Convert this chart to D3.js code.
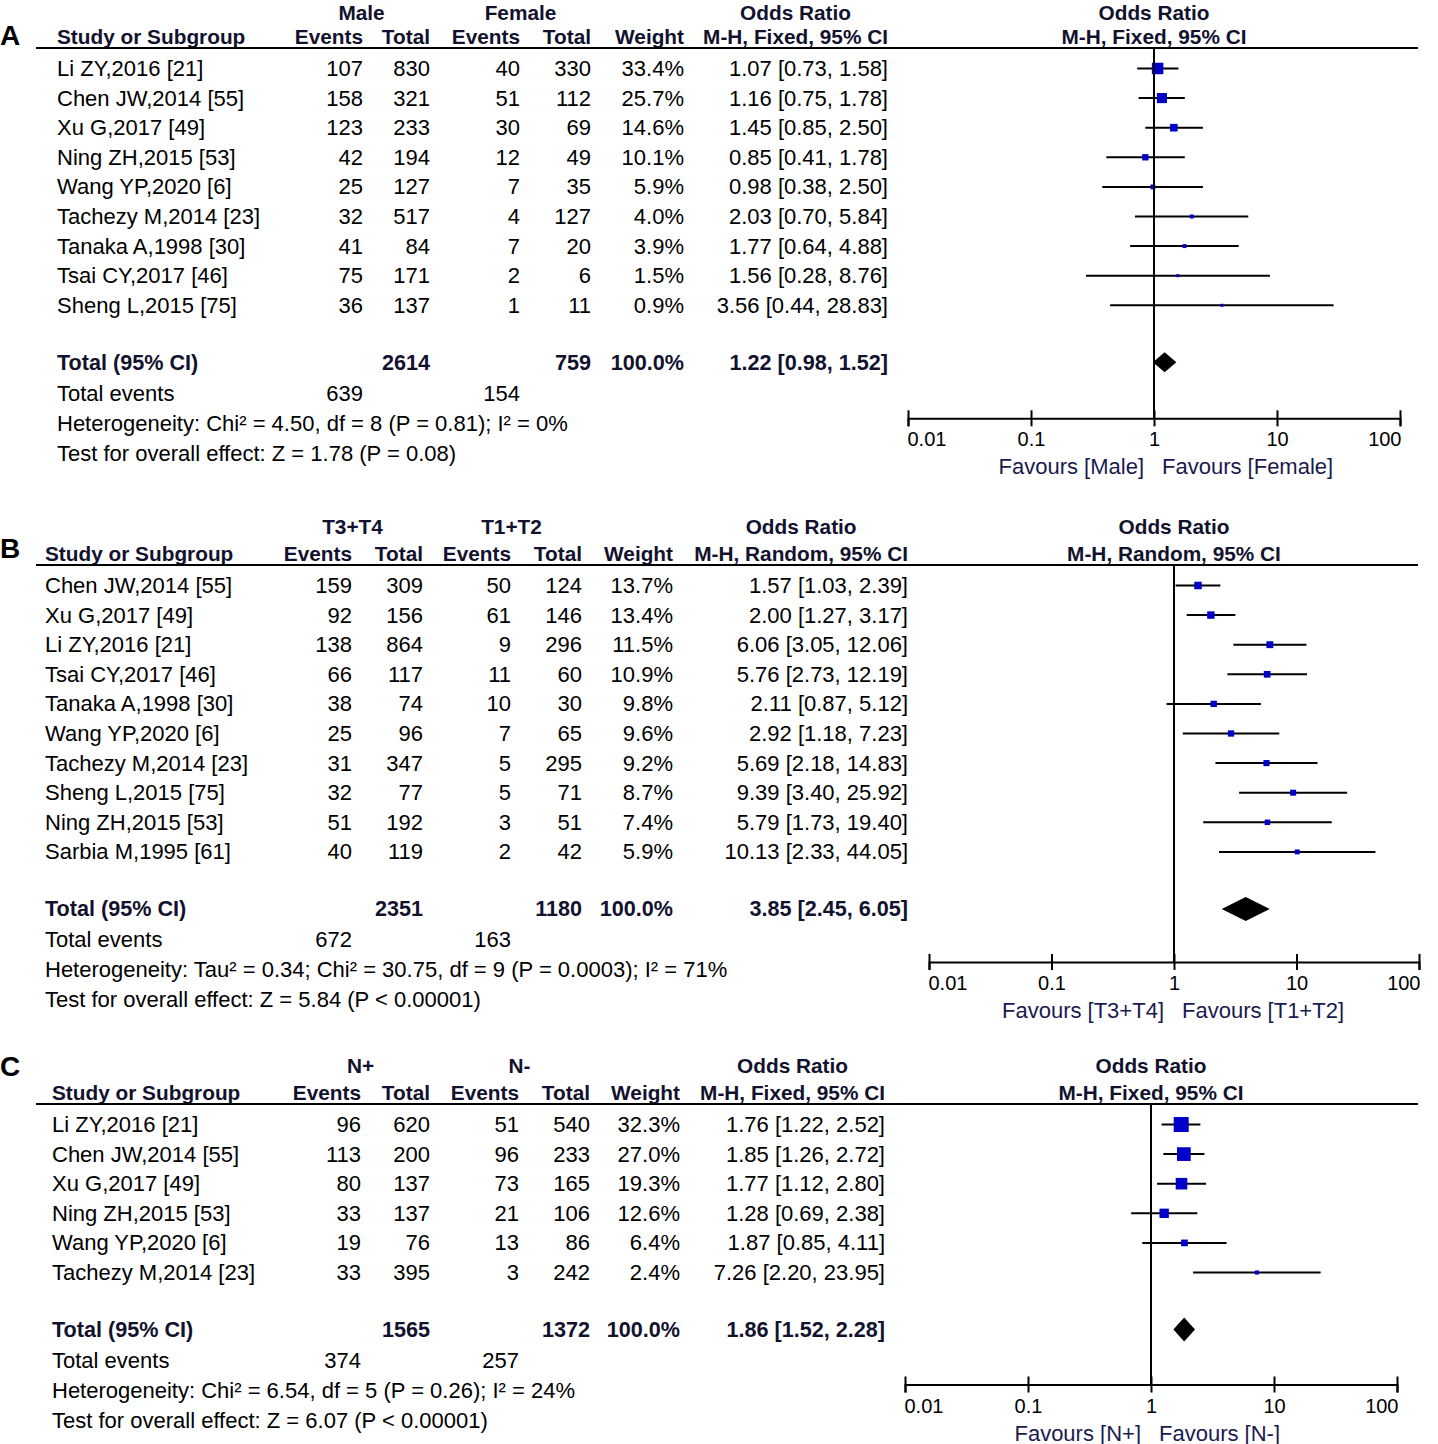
<!DOCTYPE html>
<html lang="en">
<head>
<meta charset="utf-8" />
<title>Forest plots</title>
<script src="https://d3js.org/d3.v7.min.js"></script>
<style>
  body { margin: 0; background: #fff; }
  svg text { font-family: "Liberation Sans", Arial, sans-serif; font-size: 22px; }
  svg text.head { font-weight: bold; font-size: 20.8px; }
  svg text.tot { font-weight: bold; font-size: 21.6px; }
</style>
</head>
<body>
<script>
// ---- data: panel A (sex) ----
const studiesA = ["Li ZY,2016 [21]", "Chen JW,2014 [55]", "Xu G,2017 [49]", "Ning ZH,2015 [53]",
  "Wang YP,2020 [6]", "Tachezy M,2014 [23]", "Tanaka A,1998 [30]", "Tsai CY,2017 [46]", "Sheng L,2015 [75]"];
const events1A = [107, 158, 123, 42, 25, 32, 41, 75, 36];
const totals1A = [830, 321, 233, 194, 127, 517, 84, 171, 137];
const events2A = [40, 51, 30, 12, 7, 4, 7, 2, 1];
const totals2A = [330, 112, 69, 49, 35, 127, 20, 6, 11];
const weightsA = [33.4, 25.7, 14.6, 10.1, 5.9, 4.0, 3.9, 1.5, 0.9];
const orA = [1.07, 1.16, 1.45, 0.85, 0.98, 2.03, 1.77, 1.56, 3.56];
const lowA = [0.73, 0.75, 0.85, 0.41, 0.38, 0.70, 0.64, 0.28, 0.44];
const highA = [1.58, 1.78, 2.50, 1.78, 2.50, 5.84, 4.88, 8.76, 28.83];
const groupsA = ["Male", "Female"];
const sizesA = [2614, 759];
const eventSumsA = [639, 154];
const pooledA = [1.22, 0.98, 1.52];
const methodA = "M-H, Fixed, 95% CI";
const statsA = ["Heterogeneity: Chi\u00b2 = 4.50, df = 8 (P = 0.81); I\u00b2 = 0%",
  "Test for overall effect: Z = 1.78 (P = 0.08)"];

// ---- data: panel B (T stage) ----
const studiesB = ["Chen JW,2014 [55]", "Xu G,2017 [49]", "Li ZY,2016 [21]", "Tsai CY,2017 [46]",
  "Tanaka A,1998 [30]", "Wang YP,2020 [6]", "Tachezy M,2014 [23]", "Sheng L,2015 [75]",
  "Ning ZH,2015 [53]", "Sarbia M,1995 [61]"];
const events1B = [159, 92, 138, 66, 38, 25, 31, 32, 51, 40];
const totals1B = [309, 156, 864, 117, 74, 96, 347, 77, 192, 119];
const events2B = [50, 61, 9, 11, 10, 7, 5, 5, 3, 2];
const totals2B = [124, 146, 296, 60, 30, 65, 295, 71, 51, 42];
const weightsB = [13.7, 13.4, 11.5, 10.9, 9.8, 9.6, 9.2, 8.7, 7.4, 5.9];
const orB = [1.57, 2.00, 6.06, 5.76, 2.11, 2.92, 5.69, 9.39, 5.79, 10.13];
const lowB = [1.03, 1.27, 3.05, 2.73, 0.87, 1.18, 2.18, 3.40, 1.73, 2.33];
const highB = [2.39, 3.17, 12.06, 12.19, 5.12, 7.23, 14.83, 25.92, 19.40, 44.05];
const groupsB = ["T3+T4", "T1+T2"];
const sizesB = [2351, 1180];
const eventSumsB = [672, 163];
const pooledB = [3.85, 2.45, 6.05];
const methodB = "M-H, Random, 95% CI";
const statsB = ["Heterogeneity: Tau\u00b2 = 0.34; Chi\u00b2 = 30.75, df = 9 (P = 0.0003); I\u00b2 = 71%",
  "Test for overall effect: Z = 5.84 (P < 0.00001)"];

// ---- data: panel C (N stage) ----
const studiesC = ["Li ZY,2016 [21]", "Chen JW,2014 [55]", "Xu G,2017 [49]", "Ning ZH,2015 [53]",
  "Wang YP,2020 [6]", "Tachezy M,2014 [23]"];
const events1C = [96, 113, 80, 33, 19, 33];
const totals1C = [620, 200, 137, 137, 76, 395];
const events2C = [51, 96, 73, 21, 13, 3];
const totals2C = [540, 233, 165, 106, 86, 242];
const weightsC = [32.3, 27.0, 19.3, 12.6, 6.4, 2.4];
const orC = [1.76, 1.85, 1.77, 1.28, 1.87, 7.26];
const lowC = [1.22, 1.26, 1.12, 0.69, 0.85, 2.20];
const highC = [2.52, 2.72, 2.80, 2.38, 4.11, 23.95];
const groupsC = ["N+", "N-"];
const sizesC = [1565, 1372];
const eventSumsC = [374, 257];
const pooledC = [1.86, 1.52, 2.28];
const methodC = "M-H, Fixed, 95% CI";
const statsC = ["Heterogeneity: Chi\u00b2 = 6.54, df = 5 (P = 0.26); I\u00b2 = 24%",
  "Test for overall effect: Z = 6.07 (P < 0.00001)"];

const orTicks = [0.01, 0.1, 1, 10, 100];

const W = 1438, H = 1444;
const navy = "#1a1a50";
const boldInk = "#12122e";
const boxBlue = "#0000c8";
const rowStep = 29.6;

const svg = d3.select("body").append("svg").attr("width", W).attr("height", H);

const f2 = d3.format(".2f");
const ciText = (o, l, h) => `${f2(o)} [${f2(l)}, ${f2(h)}]`;

const drawPanel = p => {
  const g = svg.append("g");
  const [cEv1, cTot1, cEv2, cTot2, cWt, cOr] = p.cols;
  const n = p.studies.length;
  const rowY = i => p.lineY + 20.5 + i * rowStep;
  const totalY = rowY(n - 1) + 57;
  const axisY = totalY + p.axisGap;

  const x = d3.scaleLog().domain([0.01, 100]).range([p.x0, p.x1]);

  // panel letter
  g.append("text").attr("x", 0).attr("y", p.letterY)
    .style("font-size", "28px").style("font-weight", "bold").text(p.letter);

  // header rows
  const head = g.append("g").attr("fill", boldInk);
  const hText = (t, tx, ty, anchor) => head.append("text").attr("class", "head")
    .attr("x", tx).attr("y", ty).attr("text-anchor", anchor).text(t);
  const topY = p.lineY - p.topGap, subY = p.lineY - 4;
  hText(p.groups[0], (cEv1 - 70 + cTot1) / 2, topY, "middle");
  hText(p.groups[1], (cEv2 - 70 + cTot2) / 2, topY, "middle");
  const mh = hText(p.method, cOr, subY, "end");
  const mhW = mh.node().getComputedTextLength();
  hText("Odds Ratio", cOr - mhW / 2, topY, "middle");
  hText("Odds Ratio", x(1), topY, "middle");
  hText(p.method, x(1), subY, "middle");
  hText("Study or Subgroup", p.studyX, subY, "start");
  [["Events", cEv1], ["Total", cTot1], ["Events", cEv2], ["Total", cTot2], ["Weight", cWt]]
    .forEach(([t, cx]) => hText(t, cx, subY, "end"));

  g.append("line").attr("x1", 36).attr("x2", 1418).attr("y1", p.lineY).attr("y2", p.lineY)
    .attr("stroke", "#000").attr("stroke-width", 2);

  // study rows
  const rows = g.selectAll("g.row").data(d3.range(n)).join("g").attr("class", "row")
    .attr("transform", i => `translate(0,${rowY(i)})`);
  rows.append("text").attr("x", p.studyX).attr("y", 7.5).text(i => p.studies[i]);
  const cells = [
    [cEv1, i => p.ev1[i]], [cTot1, i => p.tot1[i]], [cEv2, i => p.ev2[i]], [cTot2, i => p.tot2[i]],
    [cWt, i => p.weights[i].toFixed(1) + "%"], [cOr, i => ciText(p.or[i], p.lo[i], p.hi[i])]
  ];
  cells.forEach(([cx, fn]) => rows.append("text").attr("x", cx).attr("y", 7.5)
    .attr("text-anchor", "end").text(fn));

  // reference line at OR = 1
  g.append("line").attr("x1", x(1)).attr("x2", x(1)).attr("y1", p.lineY).attr("y2", axisY)
    .attr("stroke", "#000").attr("stroke-width", 2);

  // whiskers + boxes
  rows.append("line").attr("x1", i => x(p.lo[i])).attr("x2", i => x(p.hi[i]))
    .attr("stroke", "#000").attr("stroke-width", 2);
  const box = d3.scaleSqrt().domain([0, d3.max(p.weights)]).range([0, p.box]);
  const side = i => Math.max(box(p.weights[i]), 3);
  rows.append("rect")
    .attr("x", i => x(p.or[i]) - side(i) / 2)
    .attr("y", i => -side(i) / 2)
    .attr("width", side)
    .attr("height", side)
    .attr("fill", boxBlue);

  // total row
  const tot = g.append("g").attr("fill", boldInk).attr("transform", `translate(0,${totalY + 7.5})`);
  const tText = (t, tx, anchor) => tot.append("text").attr("class", "tot")
    .attr("x", tx).attr("text-anchor", anchor).text(t);
  tText("Total (95% CI)", p.studyX, "start");
  tText(p.sizes[0], cTot1, "end");
  tText(p.sizes[1], cTot2, "end");
  tText("100.0%", cWt, "end");
  tText(ciText(...p.pooled), cOr, "end");

  const [po, pl, ph] = p.pooled;
  g.append("path")
    .attr("d", `M${x(pl)},${totalY}L${x(po)},${totalY - p.diamond / 2}L${x(ph)},${totalY}L${x(po)},${totalY + p.diamond / 2}Z`)
    .attr("fill", "#000");

  // footer lines
  g.append("text").attr("x", p.studyX).attr("y", totalY + 31 + 7.5).text("Total events");
  g.append("text").attr("x", cEv1).attr("y", totalY + 31 + 7.5).attr("text-anchor", "end").text(p.eventSums[0]);
  g.append("text").attr("x", cEv2).attr("y", totalY + 31 + 7.5).attr("text-anchor", "end").text(p.eventSums[1]);
  p.stats.forEach((s, k) => g.append("text").attr("x", p.studyX)
    .attr("y", totalY + 61 + k * 30 + 7.5).text(s));

  // log axis
  const ax = g.append("g").attr("transform", `translate(0,${axisY})`)
    .call(d3.axisBottom(x).tickValues(orTicks).tickFormat(d => String(d)).tickSizeOuter(0).tickSize(8).tickPadding(3));
  ax.select(".domain").attr("stroke-width", 2);
  ax.selectAll(".tick line").attr("y1", -8).attr("y2", 8).attr("stroke-width", 2);
  ax.selectAll(".tick text").style("font-size", "20px")
    .attr("fill", "#000").attr("dy", "0.85em")
    .attr("text-anchor", (d, i) => i === 0 ? "start" : i === orTicks.length - 1 ? "end" : "middle");
  ax.selectAll(".tick text").filter((d, i) => i === 0).attr("dx", -1);
  ax.selectAll(".tick text").filter((d, i) => i === orTicks.length - 1).attr("dx", 1);

  g.append("text").attr("x", x(1) - 10).attr("y", axisY + 56).attr("text-anchor", "end")
    .attr("fill", navy).text(`Favours [${p.groups[0]}]`);
  g.append("text").attr("x", x(1) + 8).attr("y", axisY + 56)
    .attr("fill", navy).text(`Favours [${p.groups[1]}]`);
};

drawPanel({
  letter: "A", letterY: 45, lineY: 48, topGap: 28, studyX: 57, cols: [363, 430, 520, 591, 684, 888],
  x0: 908, x1: 1400, box: 11.5, diamond: 20, axisGap: 56,
  studies: studiesA, ev1: events1A, tot1: totals1A, ev2: events2A, tot2: totals2A,
  weights: weightsA, or: orA, lo: lowA, hi: highA, groups: groupsA, sizes: sizesA,
  eventSums: eventSumsA, pooled: pooledA, method: methodA, stats: statsA
});
drawPanel({
  letter: "B", letterY: 558, lineY: 565, topGap: 31, studyX: 45, cols: [352, 423, 511, 582, 673, 908],
  x0: 929, x1: 1419, box: 7.5, diamond: 24, axisGap: 53,
  studies: studiesB, ev1: events1B, tot1: totals1B, ev2: events2B, tot2: totals2B,
  weights: weightsB, or: orB, lo: lowB, hi: highB, groups: groupsB, sizes: sizesB,
  eventSums: eventSumsB, pooled: pooledB, method: methodB, stats: statsB
});
drawPanel({
  letter: "C", letterY: 1076, lineY: 1104, topGap: 31, studyX: 52, cols: [361, 430, 519, 590, 680, 885],
  x0: 905, x1: 1397, box: 15, diamond: 24, axisGap: 55,
  studies: studiesC, ev1: events1C, tot1: totals1C, ev2: events2C, tot2: totals2C,
  weights: weightsC, or: orC, lo: lowC, hi: highC, groups: groupsC, sizes: sizesC,
  eventSums: eventSumsC, pooled: pooledC, method: methodC, stats: statsC
});
</script>
</body>
</html>
